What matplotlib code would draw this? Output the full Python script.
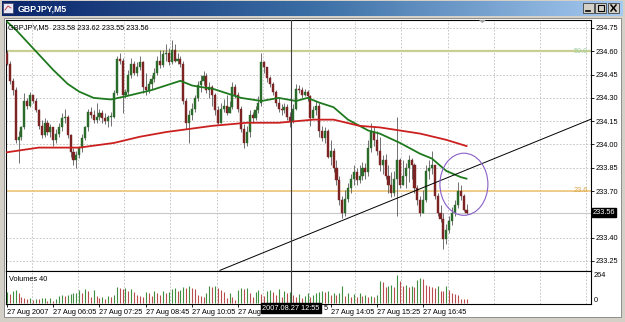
import matplotlib
matplotlib.use('Agg')
import matplotlib.pyplot as plt
import numpy as np
from matplotlib.patches import Rectangle, Ellipse, Polygon
from matplotlib.colors import LinearSegmentedColormap

plt.rcParams['font.family'] = ['Liberation Sans', 'DejaVu Sans']

# ---------------- data ----------------
symbol_title = "GBPJPY,M5"
header_text = "GBPJPY,M5  233.58 233.62 233.55 233.56"
open_first = 234.59
closes = [
    234.52, 234.41, 234.35, 234.03, 234.05, 234.11, 234.28, 234.25, 234.32, 234.28,
    234.22, 234.12, 234.06, 234.14, 234.08, 234.11, 234.03, 234.07, 234.11, 234.17,
    234.18, 234.06, 233.95, 233.90, 233.93, 233.98, 234.04, 234.11, 234.21, 234.19,
    234.16, 234.18, 234.20, 234.17, 234.15, 234.18, 234.18, 234.33, 234.55, 234.54,
    234.32, 234.34, 234.45, 234.52, 234.46, 234.50, 234.53, 234.37, 234.35, 234.39,
    234.42, 234.46, 234.54, 234.51, 234.58, 234.59, 234.53, 234.61, 234.54, 234.55,
    234.52, 234.28, 234.14, 234.19, 234.23, 234.30, 234.38, 234.41, 234.44, 234.35,
    234.37, 234.32, 234.22, 234.14, 234.23, 234.25, 234.20, 234.24, 234.37, 234.32,
    234.23, 234.10, 234.01, 234.08, 234.19, 234.17, 234.22, 234.27, 234.53, 234.50,
    234.43, 234.39, 234.34, 234.27, 234.23, 234.22, 234.24, 234.18, 234.15, 234.23,
    234.36, 234.35, 234.32, 234.34, 234.31, 234.17, 234.22, 234.25, 234.09, 234.04,
    234.09, 233.92, 233.96, 233.85, 233.77, 233.64, 233.56, 233.65, 233.72, 233.78,
    233.82, 233.77, 233.80, 233.85, 233.82, 233.98, 234.08, 234.03, 233.96, 233.87,
    233.90, 233.80, 233.74, 233.69, 233.78, 233.90, 233.74, 233.80, 233.85, 233.90,
    233.87, 233.72, 233.64, 233.56, 233.64, 233.83, 233.85, 233.87, 233.67, 233.56,
    233.52, 233.39, 233.45, 233.51, 233.56, 233.61, 233.70, 233.67, 233.58, 233.56,
]
highs = [
    234.61, 234.54, 234.43, 234.37, 234.09, 234.12, 234.33, 234.30, 234.34, 234.32,
    234.30, 234.23, 234.16, 234.17, 234.16, 234.13, 234.11, 234.10, 234.14, 234.20,
    234.23, 234.19, 234.07, 233.98, 233.96, 233.99, 234.07, 234.12, 234.23, 234.24,
    234.22, 234.27, 234.23, 234.22, 234.20, 234.19, 234.21, 234.35, 234.57, 234.59,
    234.56, 234.36, 234.48, 234.56, 234.54, 234.53, 234.57, 234.54, 234.46, 234.41,
    234.45, 234.49, 234.57, 234.61, 234.61, 234.65, 234.62, 234.67, 234.65, 234.59,
    234.57, 234.54, 234.30, 234.22, 234.27, 234.32, 234.41, 234.45, 234.47, 234.46,
    234.40, 234.38, 234.33, 234.25, 234.27, 234.29, 234.32, 234.28, 234.40, 234.39,
    234.34, 234.25, 234.13, 234.12, 234.22, 234.21, 234.25, 234.31, 234.59, 234.54,
    234.50, 234.44, 234.40, 234.35, 234.30, 234.26, 234.27, 234.26, 234.21, 234.26,
    234.39, 234.38, 234.37, 234.36, 234.35, 234.32, 234.25, 234.28, 234.27, 234.12,
    234.11, 234.10, 234.03, 233.98, 233.90, 233.80, 233.67, 233.71, 233.75, 233.81,
    233.87, 233.85, 233.87, 233.89, 233.88, 234.03, 234.14, 234.12, 234.09, 234.05,
    233.93, 233.94, 233.87, 233.82, 233.83, 234.18, 233.91, 233.90, 233.88, 233.93,
    233.91, 233.88, 233.74, 233.67, 233.71, 233.87, 233.90, 233.96, 233.85, 233.69,
    233.61, 233.56, 233.49, 233.54, 233.60, 233.64, 233.76, 233.74, 233.68, 233.62,
]
lows = [
    234.51, 234.39, 234.32, 234.01, 233.88, 234.03, 234.10, 234.23, 234.24, 234.27,
    234.21, 234.10, 234.04, 234.05, 234.06, 234.05, 233.99, 234.01, 234.05, 234.09,
    234.14, 234.04, 233.92, 233.87, 233.85, 233.91, 233.95, 234.03, 234.09, 234.17,
    234.14, 234.14, 234.16, 234.14, 234.13, 234.11, 234.12, 234.17, 234.32, 234.52,
    234.20, 234.30, 234.32, 234.43, 234.45, 234.44, 234.48, 234.33, 234.32, 234.33,
    234.36, 234.40, 234.45, 234.49, 234.50, 234.54, 234.51, 234.52, 234.53, 234.52,
    234.50, 234.26, 234.10, 234.01, 234.16, 234.21, 234.28, 234.34, 234.38, 234.33,
    234.30, 234.25, 234.19, 234.13, 234.14, 234.21, 234.19, 234.20, 234.23, 234.30,
    234.21, 234.08, 233.98, 233.99, 234.05, 234.14, 234.16, 234.20, 234.25, 234.46,
    234.40, 234.37, 234.32, 234.25, 234.21, 234.19, 234.20, 234.16, 234.11, 234.14,
    234.22, 234.33, 234.30, 234.31, 234.28, 234.12, 234.18, 234.19, 234.05, 234.02,
    234.01, 233.91, 233.87, 233.82, 233.74, 233.61, 233.53, 233.54, 233.63, 233.69,
    233.74, 233.74, 233.75, 233.77, 233.78, 233.80, 233.95, 233.99, 233.93, 233.83,
    233.81, 233.78, 233.69, 233.66, 233.67, 233.54, 233.72, 233.76, 233.72, 233.76,
    233.78, 233.69, 233.61, 233.54, 233.61, 233.63, 233.78, 233.81, 233.65, 233.54,
    233.50, 233.33, 233.36, 233.43, 233.48, 233.54, 233.59, 233.64, 233.57, 233.55,
]
volumes = [
    100, 85, 110, 120, 95, 60, 45, 35, 50, 30,
    40, 35, 45, 50, 20, 45, 15, 35, 65, 75,
    70, 80, 85, 90, 95, 120, 95, 130, 110, 60,
    120, 70, 50, 55, 40, 65, 55, 75, 150, 140,
    130, 145, 110, 135, 100, 80, 70, 60, 100, 90,
    70, 110, 95, 80, 115, 90, 105, 130, 140, 110,
    120, 150, 145, 160, 140, 130, 80, 70, 60, 90,
    160, 150, 165, 140, 120, 100, 50, 95, 60, 30,
    120, 140, 130, 145, 90, 60, 100, 120, 85, 70,
    110, 125, 105, 80, 130, 60, 110, 90, 100, 75,
    60, 85, 50, 70, 95, 55, 80, 90, 100, 115,
    105, 110, 80, 95, 75, 90, 160, 70, 95, 60,
    85, 55, 90, 65, 75, 60, 70, 55, 75, 205,
    200, 150, 165, 170, 155, 264, 205, 160, 170, 150,
    165, 155, 215, 235, 225, 170, 160, 150, 140, 165,
    115, 110, 160, 120, 95, 85, 75, 40, 40, 35,
]
# moving averages (bar index, price)
ma_green_idx = [0, 3, 11, 16, 21, 25, 30, 36, 41, 50, 60, 64, 67, 71, 81, 88, 94, 100,
                104, 108, 113, 118, 125, 129, 136, 143, 147, 152, 157, 159]
ma_green_val = [234.79, 234.74, 234.58, 234.48, 234.39, 234.34, 234.30, 234.29, 234.31,
                234.35, 234.41, 234.38, 234.37, 234.36, 234.30, 234.28, 234.30, 234.28,
                234.30, 234.27, 234.24, 234.16, 234.09, 234.07, 234.01, 233.94, 233.91,
                233.83, 233.79, 233.78]
ma_red_idx = [0, 11, 25, 37, 46, 55, 67, 71, 83, 94, 106, 113, 122, 129, 136, 143, 152, 159]
ma_red_val = [233.95, 233.98, 233.98, 234.01, 234.05, 234.08, 234.11, 234.12, 234.14,
              234.14, 234.16, 234.16, 234.12, 234.11, 234.09, 234.07, 234.03, 233.99]

price_levels = [234.75, 234.60, 234.45, 234.30, 234.15, 234.00, 233.85, 233.70, 233.40, 233.25]
fib_levels = [234.60, 233.70]
fib_labels = ["50.0", "23.6"]
last_price = 233.56
trend_pts = ([73.7, 203.0], [233.19, 234.17])
ellipse_center = (158.1, 233.744)
ellipse_size = (16.6, 0.40)
cross_bar = 98.3
cross_label = "2007.08.27 12:55"
# time labels: the ones under the crosshair box are only partly visible in the reference
time_ticks = [0, 16, 32, 48, 64, 80, 112, 128, 144]
time_labels = ["27 Aug 2007", "27 Aug 06:05", "27 Aug 07:25", "27 Aug 08:45", "27 Aug 10:05",
               "27 Aug", "27 Aug 14:05", "27 Aug 15:25", "27 Aug 16:45"]
hidden_tail = "5"
vgrid = [8.5 + 16 * k for k in range(13)]
vol_max_label = 264

# ---------------- figure ----------------
W, H = 625, 322
fig = plt.figure(figsize=(W / 100, H / 100), dpi=100, facecolor='#d4d0c8')
FS = 5.3

bg = fig.add_axes([0, 0, 1, 1])
bg.set_xlim(0, W); bg.set_ylim(H, 0); bg.axis('off')
grad = np.linspace(0, 1, 256).reshape(1, -1)
cm = LinearSegmentedColormap.from_list('tb', ['#0a246a', '#3a6ea5', '#a6caf0'])
bg.imshow(grad, extent=(2, W - 2, 16, 1), aspect='auto', cmap=cm, zorder=1)
bg.text(18, 8.5, symbol_title, color='white', fontsize=6.3, fontweight='bold', va='center', ha='left', zorder=3)
bg.add_patch(Rectangle((3, 3), 10, 10, facecolor='#e8e8f8', edgecolor='#404060', lw=0.5, zorder=2))
bg.plot([5, 8, 11], [10, 6, 8], color='#c03030', lw=0.6, zorder=3)
for bx0, glyph in [(583, '_'), (595, 'box'), (608, 'x')]:
    bg.add_patch(Rectangle((bx0, 3), 11, 10, facecolor='#d4d0c8', edgecolor='#404040', lw=0.6, zorder=2))
    if glyph == '_':
        bg.plot([bx0 + 3, bx0 + 7], [10.5, 10.5], color='black', lw=1.2, zorder=3)
    elif glyph == 'box':
        bg.add_patch(Rectangle((bx0 + 2.5, 5), 6, 5.5, facecolor='none', edgecolor='black', lw=0.8, zorder=3))
    else:
        bg.plot([bx0 + 3, bx0 + 8], [5, 11], color='black', lw=1.1, zorder=3)
        bg.plot([bx0 + 3, bx0 + 8], [11, 5], color='black', lw=1.1, zorder=3)
bg.add_patch(Rectangle((4, 18), 617, 299, facecolor='white', edgecolor='#808080', lw=0.6, zorder=1))

# ---------------- main pane ----------------
PX = 2.89
xlim = (-(7 - 6) / PX, (591 - 7) / PX)
ppu = 155.33
ylim = (234.8015 - 251 / ppu, 234.8015)

main = fig.add_axes([6 / W, (H - 271) / H, 585 / W, 251 / H])
main.set_xlim(*xlim); main.set_ylim(*ylim)
main.set_facecolor('white')
for s in main.spines.values():
    s.set_color('black'); s.set_linewidth(0.8)
main.set_xticks([])
main.yaxis.tick_right()
main.set_yticks(price_levels)
main.set_yticklabels([f"{v:.2f}" for v in price_levels])
main.tick_params(axis='y', length=2.2, width=0.6, pad=1.2, labelsize=FS, colors='black')

grid_kw = dict(color='#bdbdbd', lw=0.6, dashes=(2, 2), zorder=0)
for lv in price_levels:
    main.axhline(lv, **grid_kw)
for g in vgrid:
    main.axvline(g, **grid_kw)

main.axhline(fib_levels[0], color='#c9cf93', lw=1.6, zorder=1)
main.axhline(fib_levels[1], color='#efc67a', lw=1.2, zorder=1)
main.text(xlim[1] - 1.2, fib_levels[0], fib_labels[0], color='#9fd4a8', fontsize=FS, ha='right', va='center', zorder=2)
main.text(xlim[1] - 1.2, fib_levels[1] + 0.005, fib_labels[1], color='#d9a64a', fontsize=FS, ha='right', va='center', zorder=2)
main.axhline(last_price, color='#c8c8c8', lw=0.8, zorder=1)

opens = [open_first] + closes[:-1]
idx = np.arange(len(closes))
for i in idx:
    o, c, h, l = opens[i], closes[i], highs[i], lows[i]
    hi = max(h, o, c); lo = min(l, o, c)
    up = c >= o
    main.plot([i, i], [lo, hi], color='#5a5a5a', lw=0.6, zorder=3, solid_capstyle='butt')
    col = '#2b6a2b' if up else '#7c2323'
    bot = min(o, c); ht = max(abs(c - o), 0.004)
    main.add_patch(Rectangle((i - 0.36, bot), 0.72, ht, facecolor=col, edgecolor=col, lw=0.3, zorder=4))

main.plot(ma_green_idx, ma_green_val, color='#1f7a1f', lw=1.3, zorder=5)
main.plot(ma_red_idx, ma_red_val, color='#cc2020', lw=1.3, zorder=5)
main.plot(trend_pts[0], trend_pts[1], color='black', lw=0.7, zorder=6)
main.add_patch(Ellipse(ellipse_center, ellipse_size[0], ellipse_size[1], facecolor='none',
                       edgecolor='#8a5fc8', lw=0.8, zorder=6))
main.axvline(cross_bar, color='#404040', lw=0.8, zorder=7)

main.text(0.004, 0.985, header_text, transform=main.transAxes, fontsize=FS, ha='left', va='top', color='black', zorder=8)
main.add_patch(Polygon([[163.3, ylim[1]], [165.7, ylim[1]], [164.5, ylim[1] - 0.02]], closed=True,
                       facecolor='#a0a0a0', edgecolor='none', zorder=8, clip_on=False))
main.text(1.003, last_price, f"{last_price:.2f}", transform=main.get_yaxis_transform(), fontsize=FS,
          color='white', ha='left', va='center', zorder=9, clip_on=False,
          bbox=dict(boxstyle='square,pad=0.15', facecolor='black', edgecolor='black'))

# ---------------- volume pane ----------------
vol = fig.add_axes([6 / W, (H - 304) / H, 585 / W, 33 / H])
vol.set_xlim(*xlim)
vscale = 264 / 28.0
vol.set_ylim(-1 * vscale, 264 + 4 * vscale)
for s in vol.spines.values():
    s.set_color('black'); s.set_linewidth(0.8)
for g in vgrid:
    vol.axvline(g, **grid_kw)
vcols = ['#3f8f3f' if (i == 0 or volumes[i] > volumes[i - 1]) else '#b84c4c' for i in idx]
vol.vlines(idx, 0, volumes, colors=vcols, lw=0.8, zorder=3)
vol.axvline(cross_bar, color='#404040', lw=0.8, zorder=7)
vol.text(0.005, 0.86, "Volumes 40", transform=vol.transAxes, fontsize=FS, ha='left', va='top')
vol.set_yticks([])
vol.text(1.005, 0.85, str(vol_max_label), transform=vol.transAxes, fontsize=FS, ha='left', va='center')
vol.text(1.005, 0.12, "0", transform=vol.transAxes, fontsize=FS, ha='left', va='center')

vol.set_xticks(time_ticks)
vol.set_xticklabels(time_labels)
for t in vol.get_xticklabels():
    t.set_horizontalalignment('left')
vol.tick_params(axis='x', length=2.2, width=0.6, pad=1.5, labelsize=FS, colors='black')
vol.text(cross_bar, -0.02, cross_label, transform=vol.get_xaxis_transform(), fontsize=FS,
         color='white', ha='center', va='top', zorder=9, clip_on=False,
         bbox=dict(boxstyle='square,pad=0.2', facecolor='black', edgecolor='black'))
vol.text(109.5, -0.02, hidden_tail, transform=vol.get_xaxis_transform(), fontsize=FS,
         color='black', ha='left', va='top', clip_on=False)

fig.savefig('out.png', dpi=100, facecolor=fig.get_facecolor())
